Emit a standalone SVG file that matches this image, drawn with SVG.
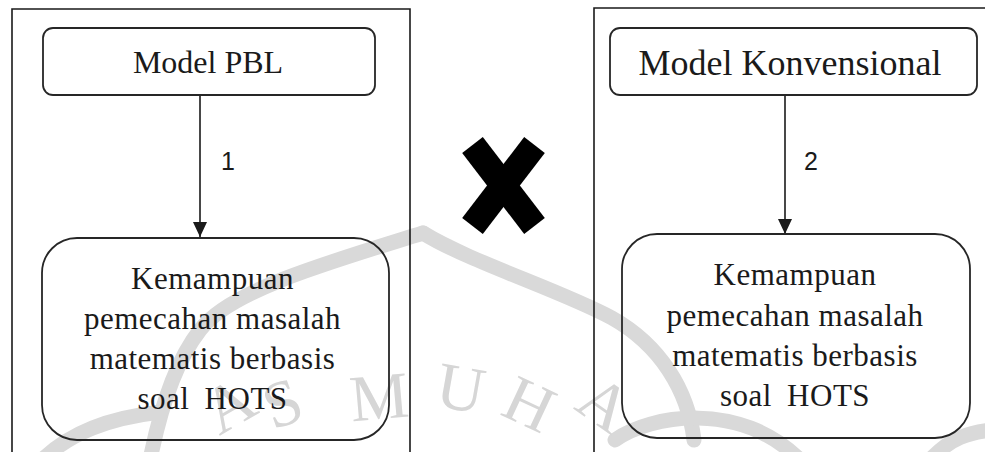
<svg xmlns="http://www.w3.org/2000/svg" width="985" height="452" viewBox="0 0 985 452">
<defs>
<style>
.wm{fill:none;stroke:#d9d9d9;stroke-width:15;stroke-linecap:round}
.wmt{font-family:"Liberation Serif",serif;font-size:66px;fill:#d6d6d6;text-anchor:middle}
.frame{fill:none;stroke:#1a1a1a;stroke-width:1.6}
.box{fill:none;stroke:#262626;stroke-width:1.8}
.t{font-family:"Liberation Serif",serif;fill:#1a1a1a;text-anchor:middle}
.body{font-size:31px;letter-spacing:0.5px}
.lbl{font-family:"Liberation Sans",sans-serif;font-size:25px;fill:#1a1a1a;text-anchor:middle}
.conn{stroke:#1a1a1a;stroke-width:1.6;fill:none}
</style>
<marker id="ah" markerWidth="15" markerHeight="14" refX="15" refY="7" orient="auto" markerUnits="userSpaceOnUse" viewBox="0 0 15 14">
<path d="M0,0 L15,7 L0,14 Z" fill="#1a1a1a"/>
</marker>
</defs>
<rect width="985" height="452" fill="#ffffff"/>
<g id="watermark">
<path class="wm" d="M423,233 C330,262 230,290 200,330 C175,362 160,410 150,460"/>
<path class="wm" d="M40,462 C70,432 110,418 160,412"/>
<path class="wm" d="M423,233 C470,262 560,290 612,318 C660,345 688,390 694,440"/>
<path class="wm" d="M615,440 C650,415 740,400 800,460"/>
<path class="wm" d="M930,460 C950,438 970,432 992,430"/>
<text class="wmt" transform="translate(240,424) rotate(-30)">A</text>
<text class="wmt" transform="translate(290,424) rotate(-20)">S</text>
<text class="wmt" transform="translate(381,419) rotate(-5)">M</text>
<text class="wmt" transform="translate(457,410) rotate(10)">U</text>
<text class="wmt" transform="translate(520,424) rotate(25)">H</text>
<text class="wmt" transform="translate(592,422) rotate(35)">A</text>
</g>
<g id="frames">
<path class="frame" d="M12,460 V9 H410 V460"/>
<path class="frame" d="M594,460 V8 H995"/>
</g>
<g id="x-mark">
<line x1="472.5" y1="145" x2="534.5" y2="226" stroke="#000" stroke-width="26"/>
<line x1="534.5" y1="145" x2="472.5" y2="226" stroke="#000" stroke-width="26"/>
</g>
<g id="connectors">
<line class="conn" x1="200" y1="95" x2="200" y2="237" marker-end="url(#ah)"/>
<line class="conn" x1="785" y1="95" x2="785" y2="234" marker-end="url(#ah)"/>
<text class="lbl" x="228" y="170">1</text>
<text class="lbl" x="811" y="170">2</text>
</g>
<g id="node-pbl">
<rect class="box" x="43" y="28" width="332" height="67" rx="10"/>
<text class="t" x="208" y="73" font-size="32">Model PBL</text>
</g>
<g id="node-konv">
<rect class="box" x="610" y="28" width="367" height="67" rx="10"/>
<text class="t" x="790" y="75" font-size="36">Model Konvensional</text>
</g>
<g id="node-hots1">
<rect class="box" x="42" y="238" width="347" height="202" rx="35"/>
<text class="t body" x="212.5" y="289">Kemampuan</text>
<text class="t body" x="212.5" y="329">pemecahan masalah</text>
<text class="t body" x="212.5" y="369">matematis berbasis</text>
<text class="t body" x="212.5" y="409" word-spacing="7">soal HOTS</text>
</g>
<g id="node-hots2">
<rect class="box" x="622" y="234" width="348" height="204" rx="35"/>
<text class="t body" x="795" y="285">Kemampuan</text>
<text class="t body" x="795" y="326">pemecahan masalah</text>
<text class="t body" x="795" y="366">matematis berbasis</text>
<text class="t body" x="795" y="406" word-spacing="7">soal HOTS</text>
</g>
</svg>
